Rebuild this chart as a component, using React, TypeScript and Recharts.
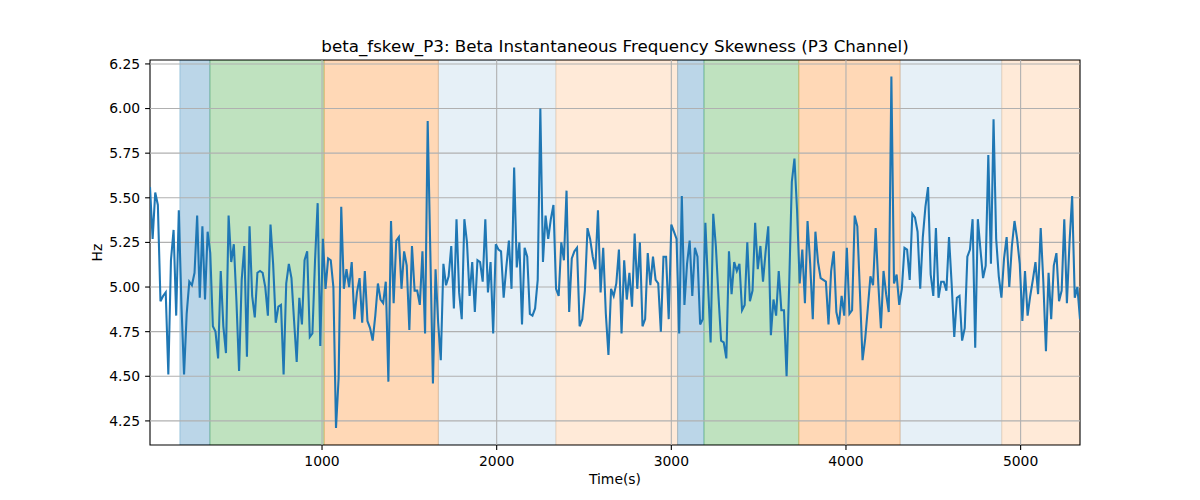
import { LineChart, Line, XAxis, YAxis, ReferenceArea, ReferenceLine } from 'recharts';

// one sample every 15 s, first at 15 s
const STEP = 15;

const valuesA = [
  5.56, 5.27, 5.53, 5.46, 4.92, 4.95, 4.97, 4.51, 5.15, 5.32,
  4.84, 5.43, 4.90, 4.51, 4.85, 5.03, 5.01, 5.08, 5.40, 4.94,
  5.34, 4.93, 5.31, 5.19, 4.78, 4.75, 4.60, 5.09, 4.78, 4.63,
  5.40, 5.14, 5.24, 4.92, 4.53, 5.04, 5.23, 4.61, 5.34, 4.95,
  4.83, 5.08, 5.09, 5.08, 5.00, 4.84, 5.35, 5.13, 4.80, 4.89,
  4.90, 4.51, 5.02, 5.13, 5.05, 4.81, 4.58, 4.94, 4.79, 5.15,
  5.20, 4.72, 4.74, 5.15, 5.47, 4.67, 5.27, 4.99, 5.16, 5.15,
  5.00, 4.21, 4.49, 5.45,
];

const valuesB = [
  4.99, 5.10, 5.00, 5.14, 4.82, 4.97, 5.05, 4.80, 5.09, 4.81,
  4.77, 4.70, 4.84, 5.02, 4.93, 4.91, 5.03, 4.47, 5.37, 4.91,
  5.26, 5.28, 4.99, 5.20, 5.12, 4.76, 5.23, 4.98, 4.98, 4.90,
  5.20, 4.74, 5.93, 5.20, 4.46, 5.10, 4.80, 4.59, 5.13, 5.01,
  5.06, 5.23, 4.88, 5.38, 4.97, 4.82, 5.38, 5.25, 4.95, 5.14,
  4.86, 5.15, 5.14, 5.03, 5.38, 4.97, 5.14, 4.74, 5.24, 5.21,
  5.20, 4.94, 5.11, 5.26, 4.99, 5.67, 5.11, 5.25,
];

const valuesC = [
  4.79, 5.22, 5.17, 4.85, 4.84, 4.88, 5.04, 6.00, 5.14, 5.40,
  5.27, 5.38, 5.46, 4.99, 4.95, 5.25, 5.15, 5.54, 4.86, 5.16,
  5.20, 5.22, 4.78, 4.82, 4.98, 5.33, 5.27, 5.17, 5.10, 5.43,
  4.97, 5.22, 4.85, 4.62, 4.99, 4.95, 5.02, 5.21, 4.74, 5.15,
  4.93, 5.08, 4.89, 5.30, 4.99, 5.25, 4.78, 4.82, 5.19, 5.01,
  5.17, 5.04, 5.02, 4.75, 5.17, 5.17, 4.82, 5.35, 5.31, 5.27,
  4.74, 5.51, 4.90, 5.13, 5.26, 4.95, 5.22, 5.17, 4.79, 4.82,
  5.36, 5.02, 4.69,
];

const valuesD = [
  5.41, 5.23, 4.95, 4.70, 4.69, 4.60, 5.20, 4.96, 5.14, 5.09,
  5.13, 4.87, 4.90, 5.25, 4.92, 4.98, 5.36, 5.10, 5.23, 5.03,
  5.20, 5.34, 4.73, 4.93, 4.84, 5.09, 4.87, 4.87, 4.50, 5.02,
  5.59, 5.72, 5.43, 5.02, 5.21, 4.91, 5.37, 5.13, 4.82, 5.31,
  5.14, 5.05, 5.04, 5.03, 4.79, 5.09, 5.20, 4.86, 4.79, 4.95,
  4.84, 5.22, 4.85, 4.87, 5.40, 5.34, 4.97, 4.59, 4.71, 4.88,
  5.06, 5.01, 5.33, 5.02, 4.77, 5.09, 4.96, 4.86, 6.18, 5.02,
  5.07, 4.90,
];

const valuesE = [
  4.99, 5.22, 5.21, 5.04, 5.41, 5.39, 5.31, 4.99, 5.28, 5.45,
  5.56, 5.07, 4.95, 5.33, 4.94, 5.03, 5.03, 4.98, 5.28, 5.02,
  4.72, 4.94, 4.95, 4.70, 4.77, 5.17, 5.21, 5.38, 4.66, 5.38,
  5.21, 5.05, 5.12, 5.74, 5.13, 5.94, 5.27, 5.06, 4.94, 5.16,
  5.28, 5.00, 5.23, 5.37, 5.27, 5.13, 4.81, 5.09, 4.84, 4.95,
  5.04, 5.14, 4.96, 5.33, 5.03, 4.64, 5.08, 4.82, 5.12, 5.19,
  4.92, 4.98, 5.38, 4.91, 5.25, 5.51, 4.94, 5.00, 4.82,
];

// shaded stage spans (seconds)
const spanStart = [186, 358, 1012, 1666, 2339, 3036, 3187, 3730, 4310, 4892];
const spanEnd = [358, 1012, 1666, 2339, 3036, 3187, 3730, 4310, 4892, 5340];
const spanKind = ['a', 'b', 'c', 'd', 'e', 'a', 'b', 'c', 'd', 'e'];

const xTicks = [1000, 2000, 3000, 4000, 5000];
const yTicks = [4.25, 4.5, 4.75, 5.0, 5.25, 5.5, 5.75, 6.0, 6.25];

const X_DOMAIN: [number, number] = [15, 5340];
const Y_DOMAIN: [number, number] = [4.115, 6.272];

const SPAN_STYLE: Record<string, { color: string; alpha: number }> = {
  a: { color: '#1f77b4', alpha: 0.3 },
  b: { color: '#2ca02c', alpha: 0.3 },
  c: { color: '#ff7f0e', alpha: 0.3 },
  d: { color: '#1f77b4', alpha: 0.11 },
  e: { color: '#ff7f0e', alpha: 0.16 },
};

const values = [...valuesA, ...valuesB, ...valuesC, ...valuesD, ...valuesE];
const data = values.map((v, i) => ({ t: STEP * (i + 1), v }));

const FONT = 'DejaVu Sans';
const tickStyle = { fontFamily: FONT, fontSize: 13.9, fill: '#000' };

export default function App() {
  return (
    <div style={{ position: 'absolute', left: 0, top: 0, width: 1200, height: 500, background: '#fff' }}>
      <div
        style={{
          position: 'absolute', top: 36, left: 150, width: 930, textAlign: 'center',
          fontFamily: FONT, fontSize: 16.7, lineHeight: '20px', color: '#000',
        }}
      >
        beta_fskew_P3: Beta Instantaneous Frequency Skewness (P3 Channel)
      </div>
      <LineChart width={1200} height={500} data={data} margin={{ top: 60, right: 120, bottom: 0, left: 44 }}>
        <XAxis
          dataKey="t"
          type="number"
          domain={X_DOMAIN}
          allowDataOverflow
          ticks={xTicks}
          tick={tickStyle}
          tickSize={4.9}
          tickMargin={6}
          tickLine={{ stroke: '#000', strokeWidth: 1.1 }}
          axisLine={false}
          height={55}
          label={{ value: 'Time(s)', position: 'insideTop', offset: 29, style: { fontFamily: FONT, fontSize: 13.9, fill: '#000' } }}
        />
        <YAxis
          type="number"
          domain={Y_DOMAIN}
          allowDataOverflow
          ticks={yTicks}
          tickFormatter={(v: number) => v.toFixed(2)}
          tick={tickStyle}
          tickSize={4.9}
          tickMargin={5}
          tickLine={{ stroke: '#000', strokeWidth: 1.1 }}
          axisLine={false}
          width={106}
          label={{ value: 'Hz', angle: -90, position: 'center', style: { fontFamily: FONT, fontSize: 13.9, fill: '#000' } }}
        />
        {spanStart.map((s, i) => {
          const st = SPAN_STYLE[spanKind[i]];
          return (
            <ReferenceArea
              key={`span-${i}`}
              x1={s}
              x2={spanEnd[i]}
              fill={st.color}
              fillOpacity={st.alpha}
              stroke={st.color}
              strokeOpacity={st.alpha}
              strokeWidth={1}
              ifOverflow="hidden"
            />
          );
        })}
        {xTicks.map(t => (
          <ReferenceLine key={`gx-${t}`} x={t} stroke="#b0b0b0" strokeWidth={1.1} />
        ))}
        {yTicks.map(t => (
          <ReferenceLine key={`gy-${t}`} y={t} stroke="#b0b0b0" strokeWidth={1.1} />
        ))}
        <Line
          dataKey="v"
          type="linear"
          stroke="#1f77b4"
          strokeWidth={2.08}
          dot={false}
          isAnimationActive={false}
        />
        <ReferenceArea
          x1={X_DOMAIN[0]}
          x2={X_DOMAIN[1]}
          y1={Y_DOMAIN[0]}
          y2={Y_DOMAIN[1]}
          fill="none"
          stroke="#000"
          strokeWidth={1.1}
        />
      </LineChart>
    </div>
  );
}
